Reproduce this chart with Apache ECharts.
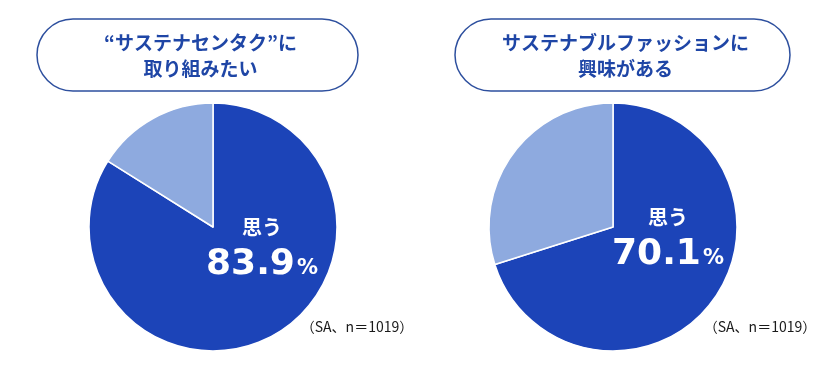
<!DOCTYPE html>
<html>
<head>
<meta charset="utf-8">
<script src="https://cdn.jsdelivr.net/npm/echarts@6/dist/echarts.min.js"></script>
<style>
html,body{margin:0;padding:0;background:#fff;}
#chart{width:827px;height:369px;}
</style>
</head>
<body>
<div id="chart"></div>
<script>
const chartTitles = ['“サステナセンタク”に\n取り組みたい', 'サステナブルファッションに\n興味がある'];
const categories = ['思う', 'その他'];
const leftValues = [83.9, 16.1];
const rightValues = [70.1, 29.9];
const noteText = '（SA、n＝1019）';

const DARK = '#1c44b8';
const LIGHT = '#8eaadf';
const TITLE_COLOR = '#1f46a6';
const BORDER_COLOR = '#2d4f9e';
const JP = '"Noto Sans CJK JP", "Noto Sans", sans-serif';

function pieSeries(values, center, offset) {
  return {
    type: 'pie',
    center: center,
    radius: 124,
    startAngle: 90,
    clockwise: true,
    silent: true,
    animation: false,
    itemStyle: { borderColor: '#ffffff', borderWidth: 1.5 },
    labelLine: { show: false },
    data: values.map((v, i) => ({
      name: categories[i],
      value: v,
      itemStyle: { color: i === 0 ? DARK : LIGHT },
      label: i === 0 ? {
        show: true,
        position: 'center',
        offset: offset,
        formatter: p => '{a|' + p.name + '}\n{n|' + p.value.toFixed(1) + '}{p|%}',
        rich: {
          a: { fontFamily: JP, fontWeight: 'bold', fontSize: 20, color: '#fff', lineHeight: 28, align: 'center' },
          n: { fontFamily: '"DejaVu Sans", Verdana, sans-serif', fontWeight: 'bold', fontSize: 36, color: '#fff', lineHeight: 42, verticalAlign: 'bottom' },
          p: { fontFamily: '"DejaVu Sans", Verdana, sans-serif', fontWeight: 'bold', fontSize: 21, color: '#fff', lineHeight: 42, verticalAlign: 'bottom', padding: [0, 0, 4, 2] }
        }
      } : { show: false }
    }))
  };
}

function titleBox(x, w, text) {
  return [
    {
      type: 'rect',
      shape: { x: x, y: 19, width: w, height: 72, r: 36 },
      style: { fill: '#ffffff', stroke: BORDER_COLOR, lineWidth: 1.5 },
      silent: true
    },
    {
      type: 'text',
      x: x + w / 2 + 3,
      y: 56,
      style: {
        text: text,
        align: 'center',
        verticalAlign: 'middle',
        font: 'bold 19px ' + JP,
        fill: TITLE_COLOR,
        lineHeight: 26
      },
      silent: true
    }
  ];
}

const chart = echarts.init(document.getElementById('chart'), null, { renderer: 'canvas' });
chart.setOption({
  backgroundColor: '#ffffff',
  animation: false,
  graphic: [].concat(
    titleBox(37, 321, chartTitles[0]),
    titleBox(455, 335, chartTitles[1]),
    [
      { type: 'text', x: 357, y: 327, style: { text: noteText, align: 'center', verticalAlign: 'middle', font: '14px ' + JP, fill: '#1a1a1a' }, silent: true },
      { type: 'text', x: 760, y: 327, style: { text: noteText, align: 'center', verticalAlign: 'middle', font: '14px ' + JP, fill: '#1a1a1a' }, silent: true }
    ]
  ),
  series: [
    pieSeries(leftValues, [213, 227], [49, 21]),
    pieSeries(rightValues, [613, 227], [55, 11])
  ]
});
</script>
</body>
</html>
